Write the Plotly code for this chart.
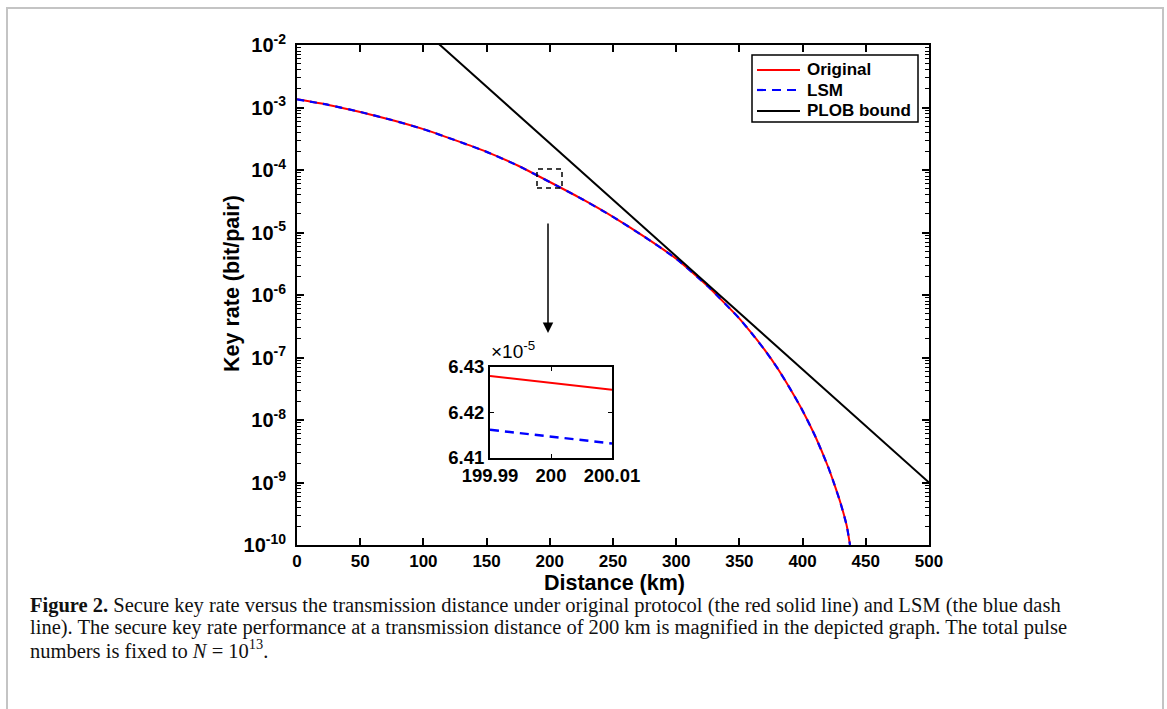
import plotly.graph_objects as go

# ---------------- data ----------------
distance_km = [0, 25, 50, 75, 100, 125, 150, 175, 200, 225, 250, 275, 300, 325,
               350, 360, 370, 380, 390, 400, 410, 420, 425, 430, 435, 437.5]
rate_original = [1.35e-3, 1.10e-3, 8.5e-4, 6.3e-4, 4.5e-4, 3.0e-4, 1.95e-4, 1.17e-4,
                 6.43e-5, 3.47e-5, 1.78e-5, 8.5e-6, 3.8e-6, 1.38e-6,
                 4.2e-7, 2.4e-7, 1.32e-7, 6.8e-8, 3.2e-8, 1.41e-8, 5.5e-9, 1.82e-9,
                 9.5e-10, 4.7e-10, 2.0e-10, 1.0e-10]
rate_lsm = [1.35e-3, 1.10e-3, 8.5e-4, 6.3e-4, 4.5e-4, 3.0e-4, 1.95e-4, 1.17e-4,
            6.415e-5, 3.47e-5, 1.78e-5, 8.5e-6, 3.8e-6, 1.38e-6,
            4.2e-7, 2.4e-7, 1.32e-7, 6.8e-8, 3.2e-8, 1.41e-8, 5.5e-9, 1.82e-9,
            9.5e-10, 4.7e-10, 2.0e-10, 1.0e-10]

plob_km = [100, 200, 300, 400, 500]
plob_rate = [1.73e-2, 2.68e-4, 4.16e-6, 6.46e-8, 1.0e-9]

inset_km = [199.99, 200.01]
inset_original = [6.4280e-5, 6.4250e-5]
inset_lsm = [6.4162e-5, 6.4132e-5]

series_names = ["Original", "LSM", "PLOB bound"]

x_ticks = [0, 50, 100, 150, 200, 250, 300, 350, 400, 450, 500]
y_exponents = [-10, -9, -8, -7, -6, -5, -4, -3, -2]
inset_x_ticks = [199.99, 200, 200.01]
inset_x_labels = ["199.99", "200", "200.01"]
inset_y_ticks = [6.41e-5, 6.42e-5, 6.43e-5]
inset_y_labels = ["6.41", "6.42", "6.43"]

# ---------------- figure ----------------
W, H = 1167, 709
def px(x):
    return x / W
def py(y):
    return 1 - y / H

SANS = "Liberation Sans, Arial, sans-serif"
SERIF = "Liberation Serif, Times New Roman, serif"

RED = dict(color="#ff0000", width=2)
BLUE = dict(color="#0000ff", width=2.2, dash="7px,6px")
BLACK = dict(color="#000000", width=2)

fig = go.Figure()

fig.add_trace(go.Scatter(x=distance_km, y=rate_original, mode="lines", name=series_names[0],
                         line=dict(**RED, shape="spline", smoothing=0.5)))
fig.add_trace(go.Scatter(x=distance_km, y=rate_lsm, mode="lines", name=series_names[1],
                         line=dict(**BLUE, shape="spline", smoothing=0.5)))
fig.add_trace(go.Scatter(x=plob_km, y=plob_rate, mode="lines", name=series_names[2],
                         line=BLACK))

# inset
fig.add_trace(go.Scatter(x=inset_km, y=inset_original, mode="lines",
                         xaxis="x2", yaxis="y2", line=dict(color="#ff0000", width=2)))
fig.add_trace(go.Scatter(x=inset_km, y=inset_lsm, mode="lines",
                         xaxis="x2", yaxis="y2",
                         line=dict(color="#0000ff", width=2.5, dash="9px,6px")))

minor_vals = [m * 10 ** e for e in y_exponents[:-1] for m in range(2, 10)]

fig.update_layout(
    width=W, height=H,
    margin=dict(l=0, r=0, t=0, b=0, autoexpand=False),
    paper_bgcolor="white", plot_bgcolor="white",
    showlegend=False,
    xaxis=dict(domain=[px(297), px(929)], range=[0, 500], automargin=False,
               tickvals=x_ticks, ticktext=[f"<b>{v}</b>" for v in x_ticks],
               ticks="inside", ticklen=7, tickwidth=1.5, tickcolor="black",
               showline=True, linecolor="black", linewidth=2, mirror="allticks",
               showgrid=False, zeroline=False,
               tickfont=dict(family=SANS, size=17, color="black")),
    yaxis=dict(domain=[py(545), py(45)], type="log", range=[-10, -2], automargin=False,
               tickvals=[10.0 ** e for e in y_exponents],
               ticktext=[f"<b>10<sup>{e}</sup></b>" for e in y_exponents],
               ticks="inside", ticklen=7, tickwidth=1.5, tickcolor="black",
               ticklabelstandoff=5,
               minor=dict(tickvals=minor_vals, ticks="inside", ticklen=4,
                          tickwidth=1, tickcolor="black", showgrid=False),
               showline=True, linecolor="black", linewidth=2, mirror="allticks",
               showgrid=False, zeroline=False,
               tickfont=dict(family=SANS, size=20, color="black")),
    xaxis2=dict(domain=[px(490), px(612)], range=[199.99, 200.01], anchor="y2",
                automargin=False,
                tickvals=inset_x_ticks, ticktext=[f"<b>{t}</b>" for t in inset_x_labels],
                ticks="inside", ticklen=4, tickcolor="black",
                showline=True, linecolor="black", linewidth=2, mirror="allticks",
                showgrid=False, zeroline=False,
                tickfont=dict(family=SANS, size=18.5, color="black")),
    yaxis2=dict(domain=[py(458), py(367)], range=[6.41e-5, 6.43e-5], anchor="x2",
                automargin=False,
                tickvals=inset_y_ticks, ticktext=[f"<b>{t}</b>" for t in inset_y_labels],
                ticks="inside", ticklen=4, tickcolor="black",
                showline=True, linecolor="black", linewidth=2, mirror="allticks",
                showgrid=False, zeroline=False,
                tickfont=dict(family=SANS, size=18.5, color="black")),
)

# legend drawn as a box with sample lines (MATLAB style)
leg_left, leg_right, leg_top, leg_bottom = 752, 918, 55, 122
leg_rows = [70, 90, 111]
leg_styles = [RED, dict(color="#0000ff", width=2.2, dash="9px,6px"), BLACK]

shapes = [
    # outer frame of the figure page
    dict(type="rect", xref="paper", yref="paper", x0=px(7), x1=px(1163), y0=-0.05, y1=py(8),
         line=dict(color="#c4c4c4", width=2), fillcolor="rgba(0,0,0,0)", layer="below"),
    # dashed zoom box
    dict(type="rect", xref="paper", yref="paper", x0=px(537), x1=px(562), y0=py(188), y1=py(169),
         line=dict(color="black", width=1.5, dash="5px,4px"), fillcolor="rgba(0,0,0,0)"),
    # legend box
    dict(type="rect", xref="paper", yref="paper", x0=px(leg_left), x1=px(leg_right),
         y0=py(leg_bottom), y1=py(leg_top),
         line=dict(color="black", width=1.5), fillcolor="white"),
]
for row_y, sty in zip(leg_rows, leg_styles):
    shapes.append(dict(type="line", xref="paper", yref="paper", x0=px(757), x1=px(800),
                       y0=py(row_y), y1=py(row_y), line=sty))
fig.update_layout(shapes=shapes)

annotations = [
    dict(xref="paper", yref="paper", x=px(548), y=py(333), ax=0, ay=-111,
         showarrow=True, arrowhead=2, arrowsize=1.4, arrowwidth=1.5, arrowcolor="black", text=""),
    dict(xref="paper", yref="paper", x=px(489), y=py(364), xanchor="left", yanchor="bottom",
         showarrow=False, text="×10<sup>-5</sup>",
         font=dict(family=SANS, size=19, color="black")),
    # axis titles
    dict(xref="paper", yref="paper", x=px(614), y=py(583), xanchor="center", yanchor="middle",
         showarrow=False, text="<b>Distance (km)</b>",
         font=dict(family=SANS, size=21.5, color="black")),
    dict(xref="paper", yref="paper", x=px(232), y=py(284), xanchor="center", yanchor="middle",
         showarrow=False, text="<b>Key rate (bit/pair)</b>", textangle=-90,
         font=dict(family=SANS, size=21.5, color="black")),
    # caption
    dict(xref="paper", yref="paper", x=px(28), y=py(605), xanchor="left", yanchor="middle",
         showarrow=False, align="left",
         text="<b>Figure 2.</b> Secure key rate versus the transmission distance under original protocol (the red solid line) and LSM (the blue dash",
         font=dict(family=SERIF, size=20.5, color="#111111")),
    dict(xref="paper", yref="paper", x=px(28), y=py(627), xanchor="left", yanchor="middle",
         showarrow=False, align="left",
         text="line). The secure key rate performance at a transmission distance of 200 km is magnified in the depicted graph. The total pulse",
         font=dict(family=SERIF, size=20.5, color="#111111")),
    dict(xref="paper", yref="paper", x=px(28), y=py(649), xanchor="left", yanchor="middle",
         showarrow=False, align="left",
         text="numbers is fixed to <i>N</i> = 10<sup>13</sup>.",
         font=dict(family=SERIF, size=20.5, color="#111111")),
]
for row_y, name in zip(leg_rows, series_names):
    annotations.append(dict(xref="paper", yref="paper", x=px(805), y=py(row_y),
                            xanchor="left", yanchor="middle", showarrow=False,
                            text=f"<b>{name}</b>",
                            font=dict(family=SANS, size=17, color="black")))
fig.update_layout(annotations=annotations)

fig.write_html("out.html", config={"displayModeBar": False},
               post_script="document.body.style.margin='0';document.body.style.padding='0';")
